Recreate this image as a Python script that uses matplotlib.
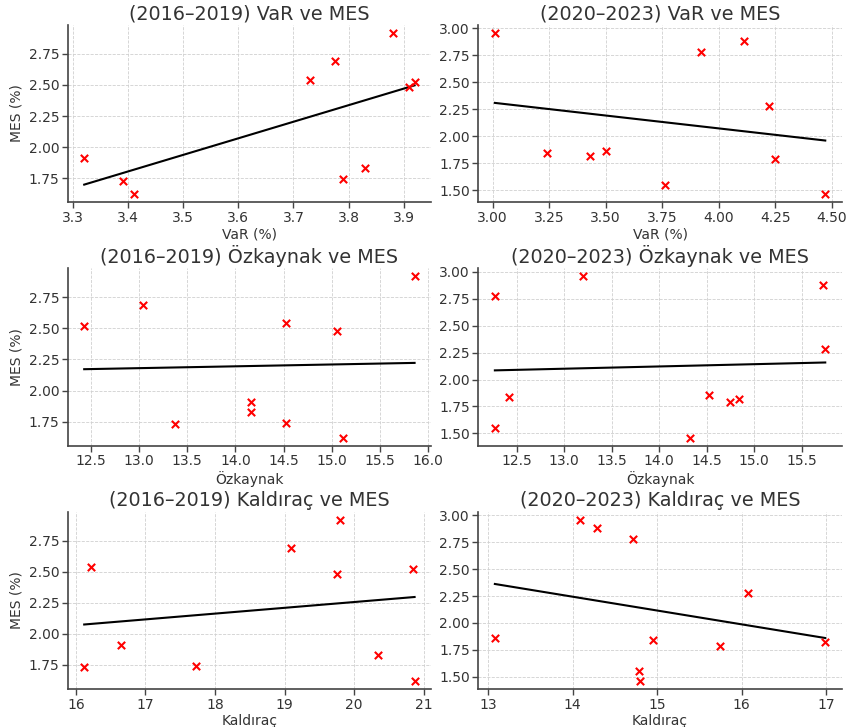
import numpy as np
import matplotlib
matplotlib.use("Agg")
import matplotlib.pyplot as plt
from matplotlib.ticker import MultipleLocator, FormatStrFormatter

# MES (%) per bank, two periods
mes_1619 = [1.91, 1.73, 1.62, 2.54, 2.69, 1.74, 1.83, 2.92, 2.48, 2.52]
var_1619 = [3.32, 3.39, 3.41, 3.73, 3.775, 3.79, 3.83, 3.88, 3.91, 3.92]
ozk_1619 = [14.16, 13.37, 15.12, 14.52, 13.04, 14.52, 14.16, 15.86, 15.05, 12.43]
kal_1619 = [16.65, 16.12, 20.87, 16.22, 19.10, 17.73, 20.35, 19.80, 19.75, 20.85]

mes_2023 = [2.96, 1.84, 1.82, 1.86, 1.55, 2.78, 2.88, 2.28, 1.79, 1.46]
var_2023 = [3.01, 3.24, 3.43, 3.50, 3.76, 3.92, 4.11, 4.22, 4.25, 4.47]
ozk_2023 = [13.20, 12.42, 14.84, 14.53, 12.27, 12.27, 15.73, 15.75, 14.75, 14.33]
kal_2023 = [14.09, 14.95, 16.99, 13.08, 14.78, 14.71, 14.29, 16.08, 15.74, 14.80]

periods = ["(2016\u20132019)", "(2020\u20132023)"]
variables = ["VaR", "\u00d6zkaynak", "Kald\u0131ra\u00e7"]
xlabels = ["VaR (%)", "\u00d6zkaynak", "Kald\u0131ra\u00e7"]

xdata = [[var_1619, var_2023], [ozk_1619, ozk_2023], [kal_1619, kal_2023]]
ydata = [mes_1619, mes_2023]

# tick steps / formats per panel
xsteps = [[0.1, 0.25], [0.5, 0.5], [1, 1]]
xfmts = [["%.1f", "%.2f"], ["%.1f", "%.1f"], ["%d", "%d"]]

txt = "#333333"
plt.rcParams["font.family"] = "DejaVu Sans"
plt.rcParams["text.color"] = txt
plt.rcParams["axes.labelcolor"] = txt
plt.rcParams["xtick.color"] = txt
plt.rcParams["ytick.color"] = txt

fig, axes = plt.subplots(3, 2, figsize=(8.46, 7.27), dpi=100)
fig.subplots_adjust(left=0.080, right=0.995, top=0.966, bottom=0.052,
                    wspace=0.13, hspace=0.37)

for r in range(3):
    for c in range(2):
        ax = axes[r, c]
        x = np.array(xdata[r][c])
        y = np.array(ydata[c])
        ax.scatter(x, y, marker="x", color="red", s=28, linewidths=1.5, zorder=3)
        k, b = np.polyfit(x, y, 1)
        xs = np.array([x.min(), x.max()])
        ax.plot(xs, k * xs + b, color="black", lw=1.5, zorder=2)

        ax.xaxis.set_major_locator(MultipleLocator(xsteps[r][c]))
        ax.xaxis.set_major_formatter(FormatStrFormatter(xfmts[r][c]))
        ax.yaxis.set_major_locator(MultipleLocator(0.25))
        ax.yaxis.set_major_formatter(FormatStrFormatter("%.2f"))

        ax.set_title(periods[c] + " " + variables[r] + " ve MES", fontsize=13.8, pad=4)
        ax.set_xlabel(xlabels[r], fontsize=10, labelpad=2)
        if c == 0:
            ax.set_ylabel("MES (%)", fontsize=10)
        ax.grid(True, linestyle="--", color="#d0d0d0", linewidth=0.6)
        ax.set_axisbelow(True)
        for s in ["top", "right"]:
            ax.spines[s].set_visible(False)
        for s in ["left", "bottom"]:
            ax.spines[s].set_color("#444444")
            ax.spines[s].set_linewidth(1.2)
        ax.tick_params(labelsize=10, length=4, width=1, color="#444444", pad=2)

fig.savefig("out.png", dpi=100)
